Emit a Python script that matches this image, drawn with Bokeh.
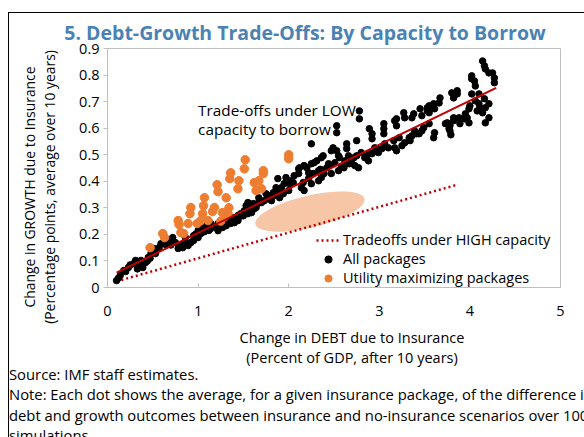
from bokeh.plotting import figure
from bokeh.models import Label, Range1d, FixedTicker, Div
from bokeh.layouts import column, row
from bokeh.embed import file_html
from bokeh.resources import INLINE

FONT = "Open Sans"

# ---------------- data ----------------
title_text = "5. Debt-Growth Trade-Offs: By Capacity to Borrow"
x_axis_lines = ["Change in DEBT due to Insurance", "(Percent of GDP, after 10 years)"]
y_axis_lines = ["Change in GROWTH due to Insurance", "(Percentage points, average over 10 years)"]
annotation_text = "Trade-offs under LOW\ncapacity to borrow"
note_lines = ["Source: IMF staff estimates.",
              "Note: Each dot shows the average, for a given insurance package, of the difference in",
              "debt and growth outcomes between insurance and no-insurance scenarios over 1000",
              "simulations."]

x_ticks = [0, 1, 2, 3, 4, 5]
y_ticks = [0.0, 0.1, 0.2, 0.3, 0.4, 0.5, 0.6, 0.7, 0.8, 0.9]
y_tick_labels = ["0", "0.1", "0.2", "0.3", "0.4", "0.5", "0.6", "0.7", "0.8", "0.9"]

black_x = [0.10, 0.12, 0.14, 0.18, 0.20, 0.23, 0.25, 0.29, 0.31, 0.33, 0.35, 0.37, 0.39, 0.42, 0.44,
           0.45, 0.47, 0.48, 0.51, 0.53, 0.57, 0.59, 0.62, 0.65, 0.68, 0.70, 0.72, 0.75, 0.78, 0.79,
           0.83, 0.85, 0.86, 0.89, 0.92, 0.95, 0.95, 0.97, 1.00, 1.00, 1.03, 1.05, 1.07, 1.09, 1.12,
           1.14, 1.14, 1.20, 1.22, 1.22, 1.25, 1.27, 1.30, 1.31, 1.33, 1.34, 1.36, 1.38, 1.39, 1.40,
           1.40, 1.44, 1.44, 1.45, 1.47, 1.50, 1.51, 1.53, 1.55, 1.55, 1.56, 1.58, 1.59, 1.61, 1.62,
           1.64, 1.66, 1.67, 1.70, 1.73, 1.75, 1.77, 1.79, 1.81, 1.83, 1.84, 1.86, 1.88, 1.88, 1.90,
           1.92, 1.94, 1.95, 1.97, 2.00, 2.01, 2.03, 2.05, 2.06, 2.11, 2.11, 2.12, 2.14, 2.16, 2.17,
           2.17, 2.20, 2.22, 2.22, 2.25, 2.25, 2.25, 2.27, 2.28, 2.31, 2.33, 2.33, 2.35, 2.36, 2.36,
           2.38, 2.39, 2.42, 2.44, 2.45, 2.47, 2.47, 2.49, 2.51, 2.53, 2.53, 2.53, 2.55, 2.55, 2.56,
           2.58, 2.61, 2.62, 2.64, 2.64, 2.66, 2.67, 2.69, 2.72, 2.73, 2.75, 2.75, 2.77, 2.78, 2.78,
           2.80, 2.84, 2.86, 2.88, 2.89, 2.89, 2.92, 2.92, 2.92, 2.95, 2.97, 2.99, 3.03, 3.05, 3.05,
           3.05, 3.06, 3.10, 3.16, 3.17, 3.17, 3.19, 3.19, 3.19, 3.22, 3.25, 3.27, 3.28, 3.28, 3.33,
           3.34, 3.36, 3.36, 3.38, 3.39, 3.41, 3.44, 3.45, 3.47, 3.47, 3.49, 3.53, 3.53, 3.55, 3.55,
           3.55, 3.60, 3.60, 3.61, 3.61, 3.66, 3.67, 3.73, 3.75, 3.77, 3.78, 3.78, 3.79, 3.80, 3.82,
           3.82, 3.82, 3.86, 3.86, 3.88, 3.89, 3.94, 3.95, 3.97, 3.99, 3.99, 4.00, 4.02, 4.02, 4.02,
           4.05, 4.06, 4.06, 4.08, 4.10, 4.10, 4.11, 4.14, 4.14, 4.16, 4.16, 4.17, 4.17, 4.17, 4.21,
           4.21, 4.21, 4.25, 4.27, 4.27]
black_y = [0.026, 0.035, 0.045, 0.064, 0.060, 0.075, 0.085, 0.090, 0.102, 0.070, 0.090, 0.102, 0.075, 0.094, 0.100,
           0.113, 0.110, 0.128, 0.147, 0.128, 0.150, 0.165, 0.165, 0.160, 0.177, 0.160, 0.188, 0.169, 0.147, 0.158,
           0.150, 0.170, 0.188, 0.158, 0.169, 0.177, 0.195, 0.200, 0.188, 0.214, 0.203, 0.222, 0.210, 0.233, 0.215,
           0.241, 0.222, 0.226, 0.214, 0.241, 0.235, 0.226, 0.245, 0.233, 0.252, 0.244, 0.241, 0.250, 0.263, 0.244,
           0.259, 0.252, 0.271, 0.265, 0.278, 0.270, 0.289, 0.308, 0.278, 0.320, 0.301, 0.295, 0.282, 0.316, 0.297,
           0.301, 0.316, 0.338, 0.320, 0.327, 0.353, 0.335, 0.345, 0.327, 0.357, 0.346, 0.376, 0.410, 0.365, 0.338,
           0.376, 0.353, 0.391, 0.414, 0.365, 0.391, 0.402, 0.395, 0.421, 0.447, 0.429, 0.451, 0.376, 0.395, 0.459,
           0.365, 0.451, 0.432, 0.410, 0.466, 0.391, 0.541, 0.429, 0.470, 0.477, 0.440, 0.402, 0.445, 0.489, 0.414,
           0.496, 0.429, 0.451, 0.466, 0.459, 0.515, 0.429, 0.526, 0.470, 0.583, 0.609, 0.515, 0.496, 0.440, 0.489,
           0.451, 0.451, 0.477, 0.541, 0.523, 0.496, 0.466, 0.477, 0.489, 0.459, 0.496, 0.553, 0.451, 0.665, 0.635,
           0.508, 0.489, 0.496, 0.477, 0.504, 0.598, 0.579, 0.560, 0.504, 0.526, 0.523, 0.508, 0.523, 0.617, 0.598,
           0.579, 0.541, 0.526, 0.553, 0.526, 0.628, 0.609, 0.635, 0.515, 0.564, 0.534, 0.658, 0.545, 0.639, 0.564,
           0.553, 0.571, 0.639, 0.654, 0.590, 0.579, 0.579, 0.673, 0.647, 0.590, 0.602, 0.677, 0.665, 0.617, 0.684,
           0.658, 0.692, 0.564, 0.583, 0.673, 0.695, 0.714, 0.617, 0.620, 0.598, 0.590, 0.609, 0.575, 0.733, 0.714,
           0.628, 0.639, 0.741, 0.729, 0.639, 0.617, 0.635, 0.654, 0.639, 0.620, 0.673, 0.684, 0.797, 0.786, 0.729,
           0.778, 0.759, 0.703, 0.665, 0.729, 0.692, 0.677, 0.853, 0.658, 0.835, 0.711, 0.823, 0.677, 0.620, 0.808,
           0.692, 0.639, 0.808, 0.789, 0.771]

orange_x = [0.47, 0.61, 0.63, 0.78, 0.79, 0.81, 0.84, 0.89, 0.91, 0.92, 0.99, 1.03, 1.05, 1.06, 1.07,
            1.11, 1.16, 1.18, 1.21, 1.22, 1.25, 1.27, 1.29, 1.31, 1.33, 1.34, 1.35, 1.36, 1.44, 1.45,
            1.51, 1.52, 1.62, 1.64, 1.67, 1.70, 1.72, 1.72, 2.00, 2.00]
orange_y = [0.150, 0.203, 0.188, 0.252, 0.237, 0.207, 0.203, 0.241, 0.278, 0.301, 0.241, 0.252, 0.278, 0.308, 0.338,
            0.252, 0.286, 0.301, 0.387, 0.361, 0.250, 0.282, 0.267, 0.338, 0.278, 0.300, 0.410, 0.432, 0.372, 0.402,
            0.447, 0.481, 0.395, 0.365, 0.402, 0.372, 0.429, 0.440, 0.500, 0.485]

low_line_x = [0.10, 4.29]
low_line_y = [0.056, 0.752]
high_line_x = [0.10, 3.84]
high_line_y = [0.023, 0.385]
region_x = [2.234]
region_y = [0.286]

TXT = "font-family:'Open Sans';color:#000;white-space:nowrap;"


def vline(left, top, height):
    return (f'<div style="position:absolute;left:{left}px;top:{top}px;width:0px;height:{height}px;'
            f'border-left:1px solid #000;"></div>')


def hline(left, top, width):
    return (f'<div style="position:absolute;left:{left}px;top:{top}px;width:{width}px;height:0px;'
            f'border-top:1px solid #000;"></div>')


# ---------------- title strip ----------------
title_div = Div(width=584, height=36, margin=0, styles={"overflow": "visible"}, text=(
    '<div style="position:relative;width:584px;height:36px;overflow:visible;">'
    + hline(8, 12, 576) + vline(8, 12, 24) +
    f'<div style="position:absolute;left:0px;top:19px;width:610px;text-align:center;{TXT}'
    f'font-size:19.5px;font-weight:bold;color:#4a82b4;line-height:normal;">{title_text}</div>'
    '</div>'))

# ---------------- y axis title strip ----------------
ylab_div = Div(width=56, height=291, margin=0, styles={"overflow": "visible", "z-index": "2"}, text=(
    '<div style="position:relative;width:56px;height:291px;overflow:visible;">'
    + vline(8, 0, 291) +
    '<div style="position:absolute;left:40px;top:151px;width:0px;height:0px;">'
    f'<div style="position:absolute;left:0px;top:0px;transform:translate(-50%,-50%) rotate(-90deg);'
    f'text-align:center;{TXT}font-size:13.9px;line-height:20px;">'
    f'{y_axis_lines[0]}<br>{y_axis_lines[1]}</div></div>'
    '</div>'))

# ---------------- chart ----------------
p = figure(width=528, height=291, x_range=Range1d(0, 5), y_range=Range1d(0, 0.9),
           output_backend="svg", toolbar_location=None,
           min_border_left=51, min_border_right=24, min_border_top=12, min_border_bottom=40)
p.xgrid.visible = False
p.ygrid.visible = False
p.outline_line_color = "#bfbfbf"
p.outline_line_width = 1
p.border_fill_alpha = 0
p.background_fill_color = "white"

p.ellipse(x=region_x, y=region_y, width=112, height=32, angle=0.23,
          width_units="screen", height_units="screen",
          fill_color="#f6c6a6", line_color=None)
p.line(high_line_x, high_line_y, line_color="#c00000", line_width=2.5, line_dash="2 3",
       legend_label="Tradeoffs under HIGH capacity")
p.scatter(black_x, black_y, size=6.5, fill_color="black", line_color="black",
          legend_label="All packages")
p.scatter(orange_x, orange_y, size=8.5, fill_color="#ed7d31", line_color="#ed7d31",
          legend_label="Utility maximizing packages")
p.line(low_line_x, low_line_y, line_color="#c00000", line_width=2)

for ax in (p.xaxis[0], p.yaxis[0]):
    ax.axis_line_color = "#bfbfbf"
    ax.major_tick_line_color = "#bfbfbf"
    ax.minor_tick_line_color = None
    ax.major_label_text_font = FONT
    ax.major_label_text_font_size = "14.5px"
    ax.major_label_text_color = "black"

p.xaxis.ticker = FixedTicker(ticks=x_ticks)
p.xaxis.major_tick_in = 4
p.xaxis.major_tick_out = 0
p.xaxis.major_label_standoff = 18

p.yaxis.ticker = FixedTicker(ticks=y_ticks)
p.yaxis.major_label_overrides = dict(zip(y_ticks, y_tick_labels))
p.yaxis.major_tick_in = 0
p.yaxis.major_tick_out = 4
p.yaxis.major_label_standoff = 4

leg = p.legend[0]
leg.location = (209, 0)
leg.background_fill_alpha = 0
leg.border_line_color = None
leg.padding = 0
leg.margin = 0
leg.spacing = 0
leg.glyph_width = 24
leg.glyph_height = 18
leg.label_height = 18
leg.label_standoff = 3
leg.label_text_font = FONT
leg.label_text_font_size = "14.5px"
leg.label_text_color = "black"

p.add_layout(Label(x=1.0, y=0.705, text=annotation_text,
                   text_font=FONT, text_font_size="15.3px", text_color="black",
                   text_align="left", text_baseline="top", text_line_height=0.96))

# ---------------- bottom strip: x axis title and notes ----------------
bottom_div = Div(width=584, height=110, margin=0, text=(
    '<div style="position:relative;width:584px;height:110px;overflow:hidden;">'
    + vline(8, 0, 110) +
    f'<div style="position:absolute;left:0px;top:1px;width:704px;text-align:center;{TXT}'
    f'font-size:14.5px;line-height:20px;">{x_axis_lines[0]}<br>{x_axis_lines[1]}</div>'
    f'<div style="position:absolute;left:9px;top:37px;{TXT}font-size:14.8px;line-height:20.3px;">'
    + "<br>".join(note_lines) + '</div>'
    '</div>'))

layout = column(title_div, row(ylab_div, p, spacing=0), bottom_div, spacing=0)

open("out.html", "w").write(file_html(layout, INLINE))
